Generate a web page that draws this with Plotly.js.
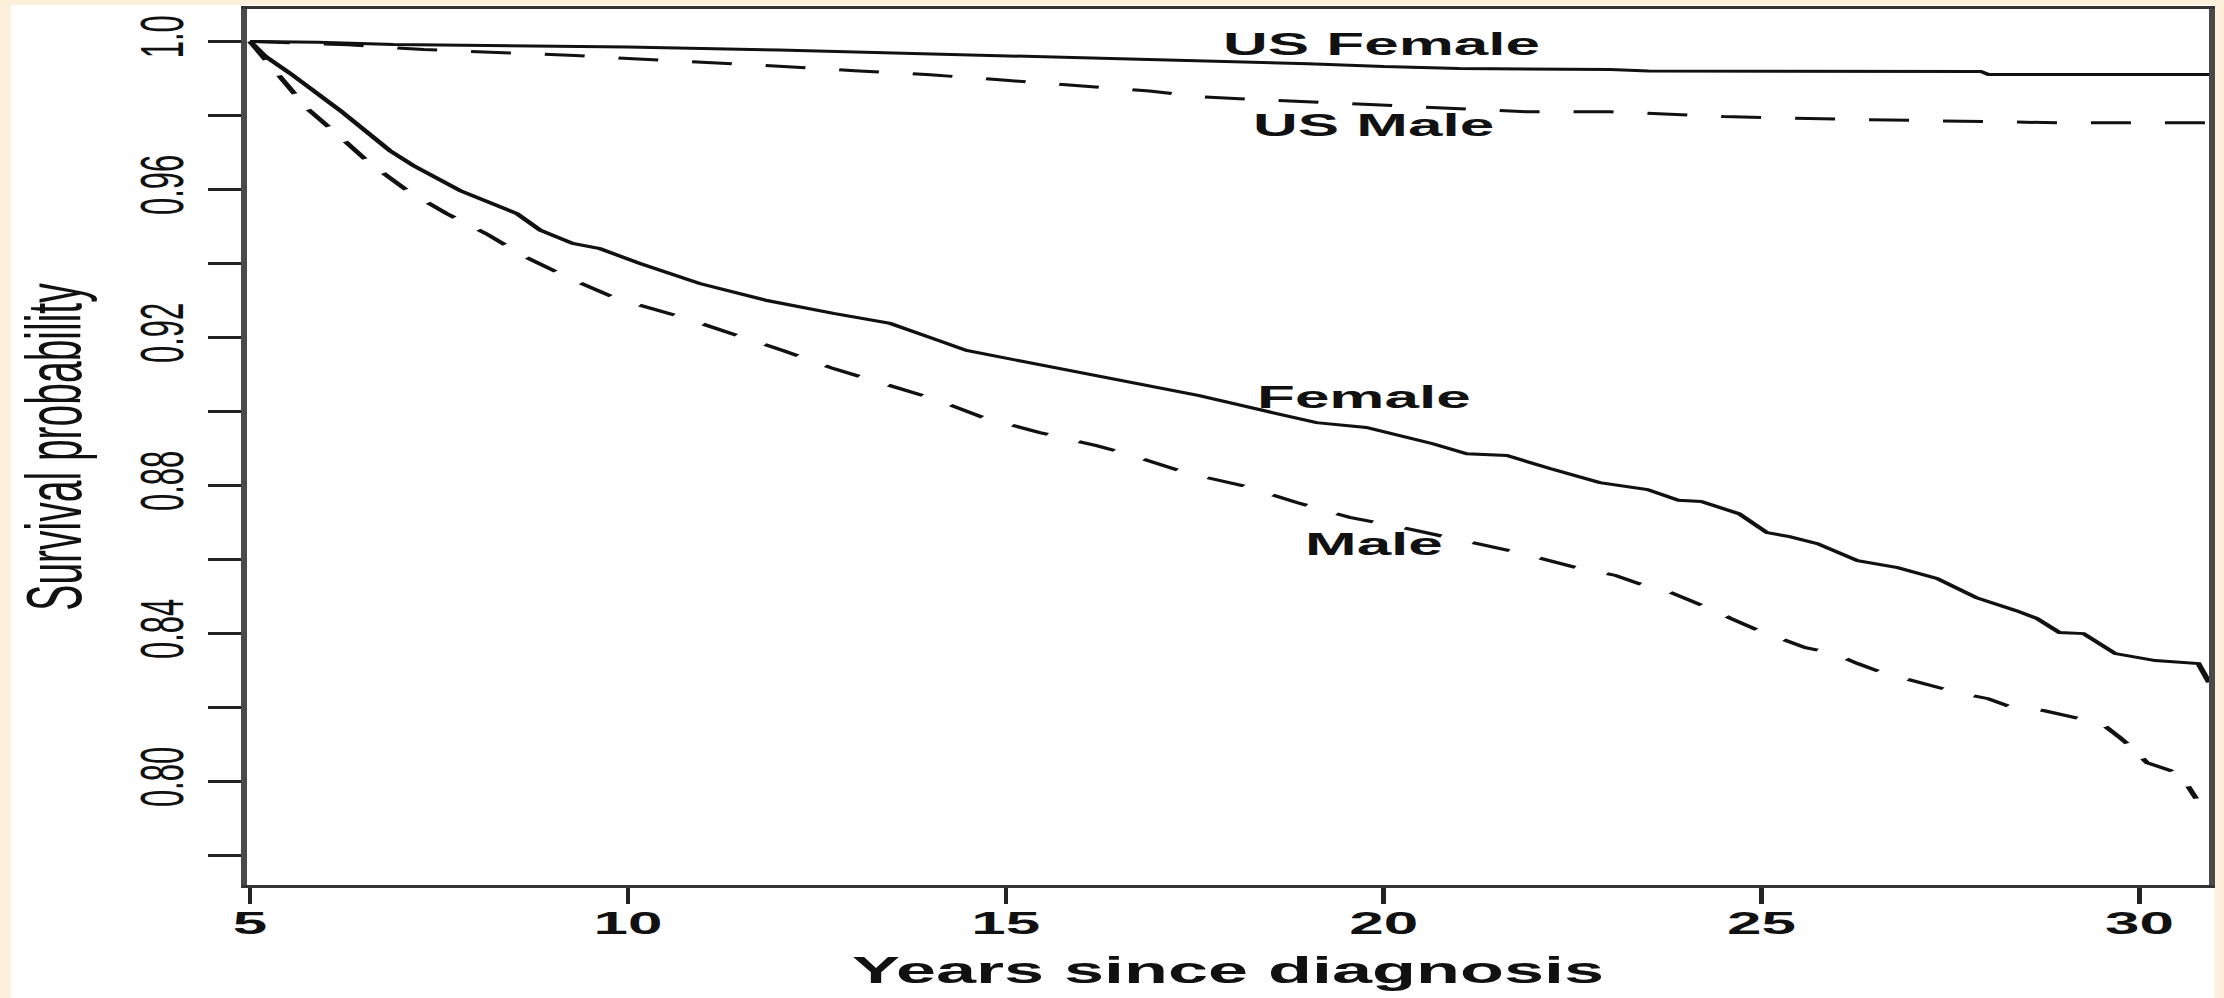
<!DOCTYPE html>
<html>
<head>
<meta charset="utf-8">
<script src="https://cdn.plot.ly/plotly-3.0.1.min.js"></script>
<style>
  html, body { margin: 0; padding: 0; background: #fcf0dc; width: 2224px; height: 998px; overflow: hidden; }
  #chart { position: absolute; left: 11px; top: 5px; width: 1102px; height: 993px;
           transform: scaleX(2); transform-origin: 0 0; }
</style>
</head>
<body>
<div id="chart"></div>
<script>
// ---- data ----
const usFemaleYears = [5, 5.9, 6.9, 8.0, 10.0, 12.0, 14.0, 15.5, 16.9, 18.0, 19.0, 20.0, 21.0, 23.0, 23.5, 27.9, 28.0, 30.92];
const usFemaleSurv  = [1.0, 0.9998, 0.9992, 0.9989, 0.9985, 0.9977, 0.9967, 0.9958, 0.9951, 0.9946, 0.994, 0.9932, 0.9927, 0.9924, 0.992, 0.9919, 0.9911, 0.9911];

const usMaleYears = [5, 5.5, 6.3, 7.3, 8.3, 9.3, 10.0, 11.0, 12.0, 13.0, 14.0, 15.0, 16.0, 16.9, 17.6, 18.7, 19.8, 20.8, 21.9, 23.0, 24.5, 26.0, 27.5, 29.0, 30.92];
const usMaleSurv  = [1.0, 0.9997, 0.9991, 0.9978, 0.997, 0.9962, 0.9954, 0.9944, 0.9933, 0.9921, 0.991, 0.9895, 0.988, 0.9866, 0.985, 0.984, 0.983, 0.982, 0.981, 0.981, 0.9797, 0.979, 0.9786, 0.978, 0.978];

const femaleYears = [5, 5.2, 5.53, 6.19, 6.85, 7.16, 7.78, 8.53, 8.84, 9.27, 9.63, 10.16, 10.95, 11.84, 12.72, 13.47, 14.04, 14.48, 15.36, 16.24, 17.56, 18.23, 19.11, 19.77, 20.65, 21.1, 21.63, 22.2, 22.86, 23.49, 23.9, 24.2, 24.7, 25.07, 25.37, 25.74, 26.27, 26.8, 27.32, 27.84, 28.37, 28.64, 28.94, 29.26, 29.68, 30.21, 30.78, 30.86, 30.92];
const femaleSurv  = [1.0, 0.996, 0.9914, 0.9814, 0.9705, 0.9665, 0.9597, 0.9535, 0.949, 0.9454, 0.944, 0.940, 0.9346, 0.930, 0.9265, 0.9238, 0.9197, 0.9165, 0.913, 0.9095, 0.9043, 0.9011, 0.897, 0.8957, 0.8913, 0.8886, 0.8881, 0.8846, 0.8808, 0.8789, 0.876, 0.8757, 0.8724, 0.8673, 0.8662, 0.8643, 0.8597, 0.8578, 0.8549, 0.8497, 0.8462, 0.8441, 0.8403, 0.84, 0.8346, 0.8327, 0.8319, 0.829, 0.8268];

const maleYears = [5, 5.44, 5.75, 6.15, 6.59, 7.08, 7.6, 8.13, 8.66, 9.23, 9.85, 10.73, 11.39, 12.05, 12.72, 13.38, 14.04, 14.7, 15.45, 16.2, 16.6, 17.43, 18.13, 18.85, 19.55, 20.3, 21.0, 21.76, 22.55, 23.07, 23.38, 23.74, 24.06, 24.38, 24.59, 24.96, 25.22, 25.58, 25.95, 26.27, 26.59, 26.91, 27.21, 27.64, 28.0, 28.32, 28.73, 29.15, 29.5, 29.74, 29.9, 30.1, 30.41, 30.62, 30.75];
const maleSurv  = [1.0, 0.9895, 0.982, 0.975, 0.967, 0.9597, 0.9535, 0.948, 0.9416, 0.936, 0.9305, 0.9254, 0.921, 0.9165, 0.9116, 0.9076, 0.9035, 0.8984, 0.8943, 0.8908, 0.8886, 0.8832, 0.88, 0.8754, 0.8714, 0.8684, 0.8654, 0.862, 0.8578, 0.8557, 0.8535, 0.8516, 0.8489, 0.8462, 0.8441, 0.8408, 0.8389, 0.8362, 0.8346, 0.8319, 0.8295, 0.8278, 0.826, 0.8238, 0.8224, 0.82, 0.8192, 0.8173, 0.8157, 0.8119, 0.8092, 0.8051, 0.803, 0.7995, 0.7954];

const xTickVals = [5, 10, 15, 20, 25, 30];
const yTickVals = [0.78, 0.80, 0.82, 0.84, 0.86, 0.88, 0.90, 0.92, 0.94, 0.96, 0.98, 1.00];
const yTickText = ['', '0.80', '', '0.84', '', '0.88', '', '0.92', '', '0.96', '', '1.0'];

const curveLabels = ['US Female', 'US Male', 'Female', 'Male'];
const labelYears  = [19.99, 19.86, 19.75, 19.86];
const labelSurv   = [0.9992, 0.9773, 0.9039, 0.8642];

// ---- drawing ----
const solid = {color: '#111', width: 3, dash: 'solid'};
const dashed = {color: '#111', width: 3, dash: '20px,17px'};

const traces = [
  {x: usFemaleYears, y: usFemaleSurv, mode: 'lines', line: solid, name: 'US Female'},
  {x: usMaleYears, y: usMaleSurv, mode: 'lines', line: dashed, name: 'US Male'},
  {x: femaleYears, y: femaleSurv, mode: 'lines', line: solid, name: 'Female'},
  {x: maleYears, y: maleSurv, mode: 'lines', line: dashed, name: 'Male'}
];

const bold = {family: 'Liberation Sans, Arial, sans-serif', size: 31, color: '#111', weight: 'bold'};

const layout = {
  width: 1102, height: 993,
  margin: {l: 118, r: 3, t: 3.5, b: 112.5, pad: 0},
  paper_bgcolor: '#ffffff', plot_bgcolor: '#ffffff',
  showlegend: false,
  hovermode: false,
  xaxis: {
    range: [4.96, 30.92],
    tickvals: xTickVals, ticktext: xTickVals.map(String),
    ticks: 'outside', ticklen: 16, tickwidth: 2.2, tickcolor: '#222',
    ticklabelstandoff: -7,
    showline: true, linecolor: '#333', linewidth: 3, mirror: true,
    showgrid: false, zeroline: false,
    tickfont: bold,
    title: {text: 'Years since diagnosis', font: {family: 'Liberation Sans, Arial, sans-serif', size: 36, color: '#111', weight: 'bold'}, standoff: 18}
  },
  yaxis: {
    range: [0.77206, 1.00877],
    tickvals: yTickVals, ticktext: yTickText,
    ticks: 'outside', ticklen: 16.5, tickwidth: 2.5, tickcolor: '#222',
    tickangle: -90,
    showline: true, linecolor: '#4a4a4a', linewidth: 3, mirror: true,
    showgrid: false, zeroline: false,
    tickfont: {family: 'Liberation Sans, Arial, sans-serif', size: 31, color: '#111'},
    title: {text: 'Survival probability', font: {family: 'Liberation Sans, Arial, sans-serif', size: 39, color: '#111'}, standoff: 23}
  },
  annotations: curveLabels.map((t, i) => ({
    x: labelYears[i], y: labelSurv[i], xref: 'x', yref: 'y',
    text: t, showarrow: false, xanchor: 'center', yanchor: 'middle',
    font: bold
  }))
};

Plotly.newPlot('chart', traces, layout, {displayModeBar: false, staticPlot: true});
</script>
</body>
</html>
